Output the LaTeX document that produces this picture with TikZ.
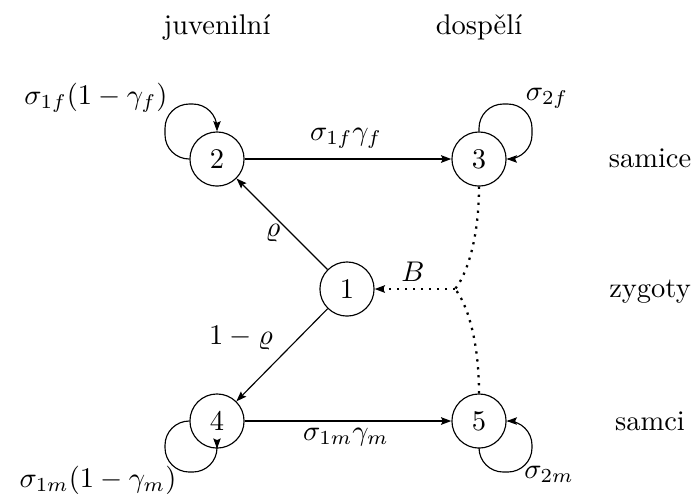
\documentclass[tikz,border=0pt]{standalone}
\usetikzlibrary{arrows.meta}
\begin{document}
\begin{tikzpicture}[x=0.351pt,y=-0.351pt,
  state/.style={circle,draw,line width=0.4pt,minimum size=19pt,inner sep=0pt},
  tip/.style={-{Stealth[length=3.6pt,width=2.6pt,inset=0.6pt]}},
  thin edge/.style={tip,line width=0.4pt},
  thick edge/.style={tip,line width=0.8pt},
  loopedge/.style={tip,line width=0.4pt,rounded corners=8.5pt},
  dotedge/.style={line width=0.8pt,dash pattern=on 0.8pt off 2pt},
  lbl/.style={inner sep=0pt}]
\useasboundingbox (0,0) rectangle (693,493);
\node[state] (n2) at (217,159) {2};
\node[state] (n3) at (479,159) {3};
\node[state] (n1) at (347,289) {1};
\node[state] (n4) at (217,421) {4};
\node[state] (n5) at (479,421) {5};
\coordinate (J) at (455,289);
% column and row captions
\node[lbl,anchor=base] (cj) at (217,34) {juvenilní};
\node[lbl,anchor=base] (cd) at (479,34) {dospělí};
\node[lbl,anchor=base] (rf) at (650,167) {samice};
\node[lbl,anchor=base] (rz) at (650,297) {zygoty};
\node[lbl,anchor=base] (rm) at (650,430) {samci};
% edges
\draw[thick edge] (n2) -- (n3);
\draw[thick edge] (n4) -- (n5);
\draw[thin edge] (n1) -- (n2);
\draw[thin edge] (n1) -- (n4);
\node[lbl] (l23) at (346,138) {$\sigma_{1f}\gamma_f$};
\node[lbl] (l45) at (346,437) {$\sigma_{1m}\gamma_m$};
\node[lbl] (l12) at (273,233) {$\varrho$};
\node[lbl] (l14) at (241,338) {$1-\varrho$};
% loops
\draw[loopedge] (n2.west) -- (165,159) -- (165,104) -- (217,104) -- (n2.north);
\draw[loopedge] (n3.north) -- (479,104) -- (532,104) -- (532,159) -- (n3.east);
\draw[loopedge] (n4.west) -- (165,421) -- (165,472) -- (217,472) -- (n4.south);
\draw[loopedge] (n5.south) -- (479,472) -- (532,472) -- (532,421) -- (n5.east);
\node[lbl] (s2) at (96,98) {$\sigma_{1f}(1-\gamma_f)$};
\node[lbl] (s3) at (547,98) {$\sigma_{2f}$};
\node[lbl] (s4) at (98,480) {$\sigma_{1m}(1-\gamma_m)$};
\node[lbl] (s5) at (549,474) {$\sigma_{2m}$};
% dotted birth connections
\draw[dotedge] (n3.south) .. controls (479,240) and (466,276) .. (J);
\draw[dotedge] (n5.north) .. controls (479,338) and (466,302) .. (J);
\draw[dotedge,-{Stealth[length=3.6pt,width=2.6pt,inset=0.6pt]}] (J) -- (n1.east);
\node[lbl] (lb) at (413,272) {$B$};
\end{tikzpicture}
\end{document}
